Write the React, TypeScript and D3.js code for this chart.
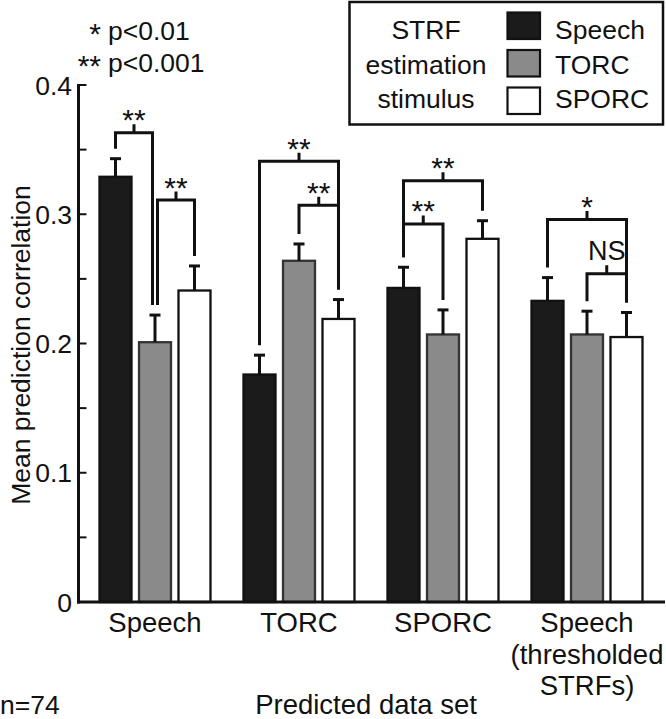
import React from "react";
import * as d3 from "d3";

const groupLabels: string[][] = [["Speech"], ["TORC"], ["SPORC"], ["Speech", "(thresholded", "STRFs)"]];
const seriesNames = ["Speech", "TORC", "SPORC"];
const speechVals = [0.329, 0.176, 0.243, 0.233];
const torcVals = [0.201, 0.264, 0.207, 0.207];
const sporcVals = [0.241, 0.219, 0.281, 0.205];
const speechErr = [0.014, 0.015, 0.016, 0.018];
const torcErr = [0.021, 0.013, 0.019, 0.018];
const sporcErr = [0.019, 0.015, 0.014, 0.019];

const bracketGroup = [0, 0, 1, 1, 2, 2, 3, 3];
const bracketFrom = [0, 1, 0, 1, 0, 0, 0, 1];
const bracketTo = [1, 2, 2, 2, 2, 1, 2, 2];
const bracketLevel = [0.363, 0.311, 0.341, 0.307, 0.326, 0.2925, 0.296, 0.254];
const bracketLabel = ["**", "**", "**", "**", "**", "**", "*", "NS"];

const yTicks = [0, 0.1, 0.2, 0.3, 0.4];
const yMinor = [0.05, 0.15, 0.25, 0.35];
const sigNotes = [["*", "p<0.01"], ["**", "p<0.001"]];
const legendTitle = ["STRF", "estimation", "stimulus"];

const FONT = "'Liberation Sans', Arial, Helvetica, sans-serif";
const fills = ["#1b1b1b", "#8a8a8a", "#ffffff"];
const strokes = ["#111", "#333", "#111"];

export default function App() {
  const W = 666, H = 719;
  const y = d3.scaleLinear().domain([0, 0.4]).range([602, 85]);
  const gx = d3.scaleBand<number>().domain(d3.range(4)).range([83, 659]).padding(0);
  const sx = d3
    .scaleBand<number>()
    .domain([0, 1, 2])
    .range([0, gx.bandwidth()])
    .paddingInner(0.19)
    .paddingOuter(0.418);
  const vals = [speechVals, torcVals, sporcVals];
  const errs = [speechErr, torcErr, sporcErr];
  const axisX = 78.5;
  const fs = 26.5;
  const starFs = 30;

  const center = (g: number, s: number) => (gx(g) as number) + (sx(s) as number) + sx.bandwidth() / 2;

  const legX = (b: number, s: number, side: "L" | "R") => {
    const g = bracketGroup[b];
    let cx = center(g, s);
    const asRight = bracketGroup.some((gg, i) => gg === g && bracketTo[i] === s);
    const asLeft = bracketGroup.some((gg, i) => gg === g && bracketFrom[i] === s);
    if (asRight && asLeft) cx += side === "R" ? -2.5 : 2.5;
    return cx;
  };

  return (
    <svg
      width={W}
      height={H}
      style={{ position: "absolute", left: 0, top: 0, background: "#fff" }}
      fontFamily={FONT}
    >
      <rect x={0} y={0} width={W} height={H} fill="#fff" />
      {sigNotes.map((n, i) => (
        <g key={i}>
          <text x={101} y={44 + i * 32} fontSize={starFs} textAnchor="end" fill="#111">
            {n[0]}
          </text>
          <text x={108} y={40 + i * 32} fontSize={fs} fill="#111">
            {n[1]}
          </text>
        </g>
      ))}

      {d3.range(4).map((g) =>
        [0, 1, 2].map((s) => {
          const x0 = (gx(g) as number) + (sx(s) as number);
          const v = vals[s][g];
          const e = errs[s][g];
          const cx = x0 + sx.bandwidth() / 2;
          return (
            <g key={`${g}-${s}`}>
              <rect
                x={x0}
                y={y(v)}
                width={sx.bandwidth()}
                height={y(0) - y(v)}
                fill={fills[s]}
                stroke={strokes[s]}
                strokeWidth={2.3}
              />
              <line x1={cx} x2={cx} y1={y(v)} y2={y(v + e)} stroke="#111" strokeWidth={3} />
              <line x1={cx - 5.5} x2={cx + 5.5} y1={y(v + e)} y2={y(v + e)} stroke="#111" strokeWidth={3} />
            </g>
          );
        })
      )}

      {bracketGroup.map((g, b) => {
        const a = bracketFrom[b];
        const c = bracketTo[b];
        const xl = legX(b, a, "L");
        const xr = legX(b, c, "R");
        const ly = y(bracketLevel[b]);
        const ybl = y(vals[a][g] + errs[a][g]) - 10;
        const ybr = y(vals[c][g] + errs[c][g]) - 10;
        const mx = (xl + xr) / 2;
        const tickTop = ly - 8.5;
        const isStar = bracketLabel[b].includes("*");
        return (
          <g key={`b${b}`}>
            <path
              d={`M${xl},${ybl}V${ly}H${xr}V${ybr}M${mx},${ly}V${tickTop}`}
              fill="none"
              stroke="#111"
              strokeWidth={3}
            />
            <text
              x={mx}
              y={isStar ? tickTop + 6 : tickTop - 5}
              fontSize={isStar ? starFs : 27}
              textAnchor="middle"
              fill="#111"
            >
              {bracketLabel[b]}
            </text>
          </g>
        );
      })}

      <line x1={axisX} x2={axisX} y1={y(0.4) - 1} y2={y(0) + 1.5} stroke="#111" strokeWidth={3} />
      <line x1={axisX - 1.5} x2={665} y1={y(0)} y2={y(0)} stroke="#111" strokeWidth={3} />
      {[...yTicks, ...yMinor].map((t, i) => (
        <line key={`t${i}`} x1={axisX} x2={axisX + 8} y1={y(t)} y2={y(t)} stroke="#111" strokeWidth={2} />
      ))}
      {yTicks.map((t, i) => (
        <text key={`yl${i}`} x={72} y={y(t)} dy="0.36em" fontSize={fs} textAnchor="end" fill="#111">
          {t === 0 ? "0" : d3.format(".1f")(t)}
        </text>
      ))}
      <text
        transform={`translate(20,345) rotate(-90)`}
        fontSize={fs}
        textAnchor="middle"
        dy="0.36em"
        fill="#111"
      >
        Mean prediction correlation
      </text>

      {groupLabels.map((lines, g) =>
        lines.map((ln, j) => (
          <text
            key={`g${g}-${j}`}
            x={(gx(g) as number) + gx.bandwidth() / 2}
            y={632 + j * 31.5}
            fontSize={27.5}
            textAnchor="middle"
            fill="#111"
          >
            {ln}
          </text>
        ))
      )}
      <text x={366} y={714} fontSize={27.5} textAnchor="middle" fill="#111">
        Predicted data set
      </text>
      <text x={0} y={714} fontSize={fs} fill="#111">
        n=74
      </text>

      <rect x={349.5} y={2} width={313.5} height={122.5} fill="#fff" stroke="#111" strokeWidth={2.5} />
      {legendTitle.map((t, i) => (
        <text key={`lt${i}`} x={426} y={39 + i * 34.5} fontSize={fs} textAnchor="middle" fill="#111">
          {t}
        </text>
      ))}
      {seriesNames.map((n, i) => (
        <g key={`lg${i}`}>
          <rect
            x={507.5}
            y={12.5 + i * 37.5}
            width={32.5}
            height={26.5}
            fill={fills[i]}
            stroke="#111"
            strokeWidth={2.2}
          />
          <text x={555} y={39 + i * 34.5} fontSize={fs} fill="#111">
            {n}
          </text>
        </g>
      ))}
    </svg>
  );
}
